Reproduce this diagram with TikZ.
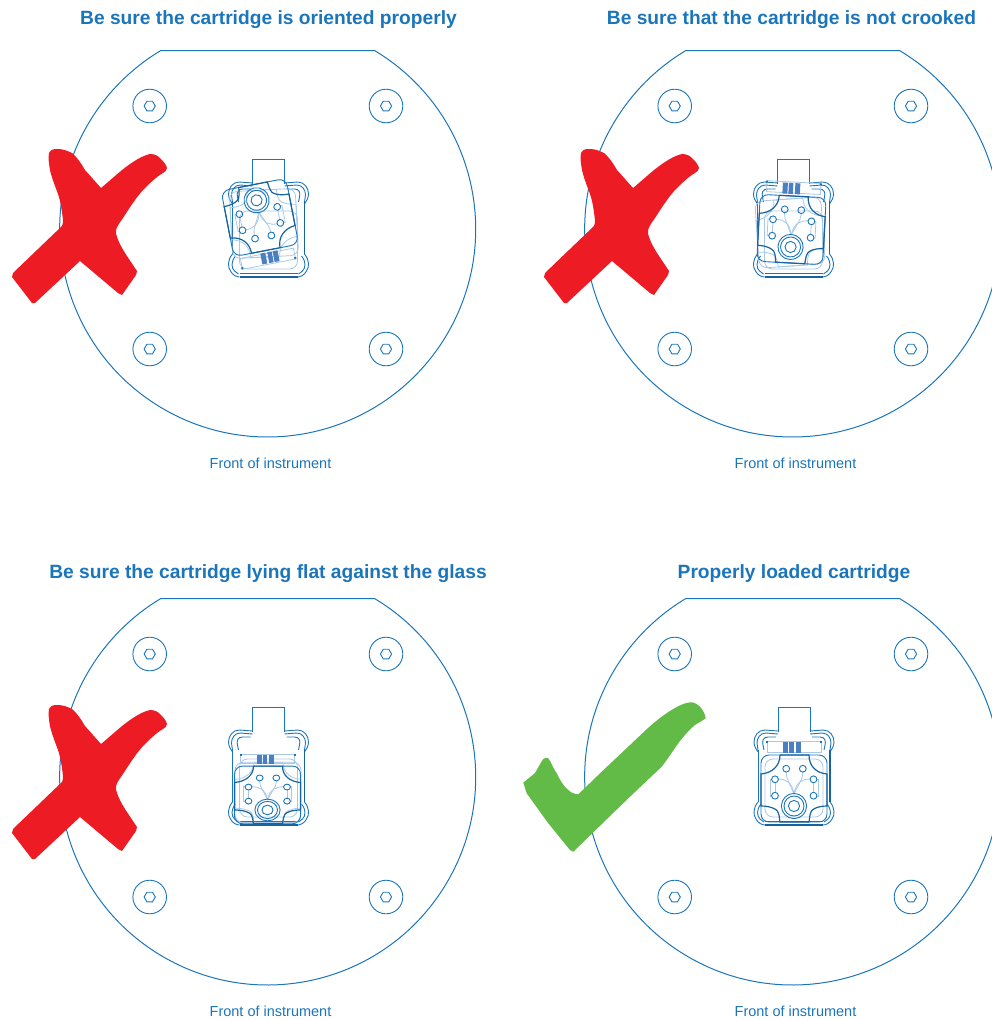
\documentclass[tikz,border=0pt]{standalone}
\usepackage{fontspec}
\setmainfont{Liberation Sans}
\usepackage{xcolor}
\definecolor{planblue}{HTML}{1B75BB}
\definecolor{barblue}{HTML}{4A7FC1}
\definecolor{faintblue}{HTML}{A9C8E6}
\definecolor{crossred}{HTML}{ED1C24}
\definecolor{tickgreen}{HTML}{62BB46}
\tikzset{
	outline/.style={draw=planblue, line width=0.9pt},
	dark/.style={draw=planblue!85!black, line width=1.2pt},
	faint/.style={draw=faintblue, line width=0.8pt},
	title/.style={text=planblue, font=\fontsize{19.2}{23}\selectfont\bfseries, anchor=center},
	caption/.style={text=planblue, font=\fontsize{14.5}{17}\selectfont, anchor=center},
	screw/.pic={
		\draw[outline] (0,0) circle [radius=16.8];
		\draw[outline] (-5.6,0) -- (-2.8,-4.8) -- (2.8,-4.8) -- (5.6,0) -- (2.8,4.8) -- (-2.8,4.8) -- cycle;
	},
	plate/.pic={
		\draw[outline, line width=1pt] (161.5,50.5) -- (374.5,50.5) arc[start angle=-59.1, delta angle=298.2, radius=208] -- cycle;
		\pic at (149.7,106) {screw};
		\pic at (386,106) {screw};
		\pic at (149.7,349) {screw};
		\pic at (386,349) {screw};
	},
	holder/.pic={
		\draw[outline] (-16,-56) -- (-16,-81) -- (16,-81) -- (16,-56);
		\draw[outline] (-16,-57) -- (-29,-58) .. controls (-36,-58) and (-40,-52) .. (-40,-46) .. controls (-40,-42) and (-38,-39) .. (-36,-36);
		\draw[outline] (-16,-54) -- (-28,-55) .. controls (-34,-55) and (-37,-50) .. (-37,-45) -- (-36,-38);
		\draw[outline] (-18,-51) -- (-26,-51) .. controls (-31,-51) and (-32,-47) .. (-31,-43) -- (-30,-38);
		\draw[outline] (16,-57) -- (29,-58) .. controls (36,-58) and (40,-52) .. (40,-46) .. controls (40,-42) and (38,-39) .. (36,-36);
		\draw[outline] (16,-54) -- (28,-55) .. controls (34,-55) and (37,-50) .. (37,-45) -- (36,-38);
		\draw[outline] (18,-51) -- (26,-51) .. controls (31,-51) and (32,-47) .. (31,-43) -- (30,-38);
		\draw[outline] (-36,-38) -- (-36,14);
		\draw[dark] (36,-38) -- (36,14);
		\draw[outline] (-36,14) .. controls (-41,20) and (-41,27) .. (-38,31) .. controls (-36,35) and (-32,37) .. (-29,37);
		\draw[outline] (-33,16) .. controls (-38,22) and (-37,28) .. (-34,31) -- (-30,34);
		\draw[outline] (36,14) .. controls (41,20) and (41,27) .. (38,31) .. controls (36,35) and (32,37) .. (29,37);
		\draw[outline] (33,16) .. controls (38,22) and (37,28) .. (34,31) -- (30,34);
		\draw[dark] (-29,37) -- (29,37);
		\draw[outline] (-29,33) -- (29,33);
		\draw[faint, rounded corners=8pt] (-29,-29) rectangle (29,29);
	},
	chip/.pic={
		\draw[faint] (-27,-47) rectangle (27,-36);
		\fill[barblue] (-11,-46) rectangle (-6,-35);
		\fill[barblue] (-5,-46) rectangle (-0.5,-35);
		\fill[barblue] (1.5,-46) rectangle (6.5,-35);
		\fill[planblue] (-28,-47) rectangle (-26,-45);
		\fill[planblue] (26,-47) rectangle (28,-45);
		\draw[outline, rounded corners=8pt] (-33,-33) rectangle (33,34);
		\draw[dark] (-14,-33) -- (15,-33) .. controls (15,-22) and (22,-15) .. (33,-14) -- (33,18) .. controls (24,18) and (16,21) .. (16,27) -- (15,34) -- (-14,34) -- (-15,27) .. controls (-15,21) and (-24,18) .. (-33,18) -- (-33,-14) .. controls (-22,-15) and (-14,-22) .. (-14,-33);
		\draw[faint] (-8,-16) -- (-7,-10) -- (0,6);
		\draw[faint] (9,-16) -- (8,-10) -- (0,6);
		\draw[faint] (-16,-9) .. controls (-8,-9) and (-2,-6) .. (0,6);
		\draw[faint] (16.5,-9) .. controls (8,-9) and (2,-6) .. (0,6);
		\draw[faint] (-19,-5.5) -- (-19,4.5);
		\draw[faint] (19.5,-5.5) -- (19.5,4.5);
		\draw[faint] (-22,-9) -- (-24,-9) -- (-24,8) -- (-22,8);
		\draw[faint] (22.5,-9) -- (24,-9) -- (24,8) -- (22.5,8);
		\draw[outline] (-7.8,-19.3) circle [radius=3.4];
		\draw[outline] (8.8,-19.3) circle [radius=3.4];
		\draw[outline] (-19,-8.7) circle [radius=3.4];
		\draw[outline] (19.5,-8.7) circle [radius=3.4];
		\draw[outline] (-19,7.7) circle [radius=3.4];
		\draw[outline] (19.5,7.7) circle [radius=3.4];
		\draw[outline] (0,18) circle [radius=12.6];
		\draw[outline] (0,18) circle [radius=10];
		\draw[outline] (0,18) circle [radius=5.6];
	},
	ghost/.pic={
		\draw[faint, rounded corners=8pt] (-33,-33) rectangle (33,34);
		\draw[faint] (-14,-33) -- (15,-33) .. controls (15,-22) and (22,-15) .. (33,-14) -- (33,18) .. controls (24,18) and (16,21) .. (16,27) -- (15,34) -- (-14,34) -- (-15,27) .. controls (-15,21) and (-24,18) .. (-33,18) -- (-33,-14) .. controls (-22,-15) and (-14,-22) .. (-14,-33);
	},
	cross/.pic={
		\fill[crossred] (49,153) .. controls (51,149) and (54,149) .. (58,149) .. controls (63,149) and (68,151) .. (72,153) .. controls (78,158) and (82,165) .. (85,170) -- (101,188) .. controls (112,179) and (122,169) .. (133,162) .. controls (139,158) and (145,155) .. (150,154) .. controls (155,154) and (158,156) .. (160,158) .. controls (163,161) and (166,164) .. (167,168) .. controls (167,170) and (165,172) .. (163,173) .. controls (156,177) and (149,184) .. (143,190) .. controls (136,198) and (130,207) .. (125,215) .. controls (121,221) and (117,226) .. (116,230) .. controls (116,233) and (116,235) .. (117,237) .. controls (119,243) and (122,248) .. (125,253) -- (137,271) -- (136,275) -- (122,295) -- (118,293) -- (80,261) -- (35,303) -- (32,303) -- (12,277) -- (13,273) -- (62,226) .. controls (63,224) and (63,222) .. (63,220) .. controls (62,212) and (61,204) .. (59,197) .. controls (56,188) and (52,179) .. (50,170) .. controls (49,164) and (48,158) .. (49,153) -- cycle;
	}
}

\begin{document}
\begin{tikzpicture}[x=1pt, y=-1pt]
	\clip (0,0) rectangle (992,1020);

	\pic at (0,0) {plate};
	\pic at (525,0) {plate};
	\pic at (0,548) {plate};
	\pic at (525,548) {plate};

	\pic at (268.5,240) {holder};
	\pic[rotate=183] at (264,224) {ghost};
	\pic[rotate=191] at (260,218) {chip};

	\pic at (793.5,240) {holder};
	\pic[rotate=4] at (790,232) {ghost};
	\pic[rotate=-3] at (791.5,229) {chip};

	\pic at (268.5,788) {holder};
	\pic[yscale=0.9] at (268,792) {ghost};
	\pic[yscale=0.86] at (267.5,794.5) {chip};

	\pic at (794,788) {holder};
	\pic at (794,788) {chip};

	\pic at (0,0) {cross};
	\pic at (532,0) {cross};
	\pic at (0,556) {cross};

	\fill[tickgreen] (523.3,782.7) -- (535,773) .. controls (538,768) and (541,762) .. (543.3,759) .. controls (545,757.5) and (547,757.5) .. (548.3,758.3) .. controls (551,762) and (553,768) .. (556.7,773.3) .. controls (560,780) and (564,787) .. (568.3,790) .. controls (571,793) and (575,794) .. (578.3,794.3) -- (601.7,771.7) -- (648,728) .. controls (657,720) and (666,713) .. (675,708) .. controls (680,705) and (685,703) .. (690,702.3) .. controls (694,702) and (697,704) .. (700,706.7) .. controls (703,710) and (705,714) .. (705.7,718.3) .. controls (702,721) and (698,723) .. (695,725) .. controls (689,730) and (683,737) .. (678.3,743.3) .. controls (672,752) and (667,760) .. (661.7,766.7) -- (628.3,798.3) -- (573.3,851.7) -- (570,850) -- (548.3,823.3) -- (526.7,793.3) -- cycle;

	\node[title] (titleA) at (268.5,19.5) {Be sure the cartridge is oriented properly};
	\node[title] (titleB) at (791.5,19.5) {Be sure that the cartridge is not crooked};
	\node[title] (titleC) at (268,573.5) {Be sure the cartridge lying flat against the glass};
	\node[title] (titleD) at (794,573.5) {Properly loaded cartridge};

	\node[caption] (frontA) at (270.5,463.5) {Front of instrument};
	\node[caption] (frontB) at (795.5,463.5) {Front of instrument};
	\node[caption] (frontC) at (270.5,1011.5) {Front of instrument};
	\node[caption] (frontD) at (795.5,1011.5) {Front of instrument};
\end{tikzpicture}
\end{document}
